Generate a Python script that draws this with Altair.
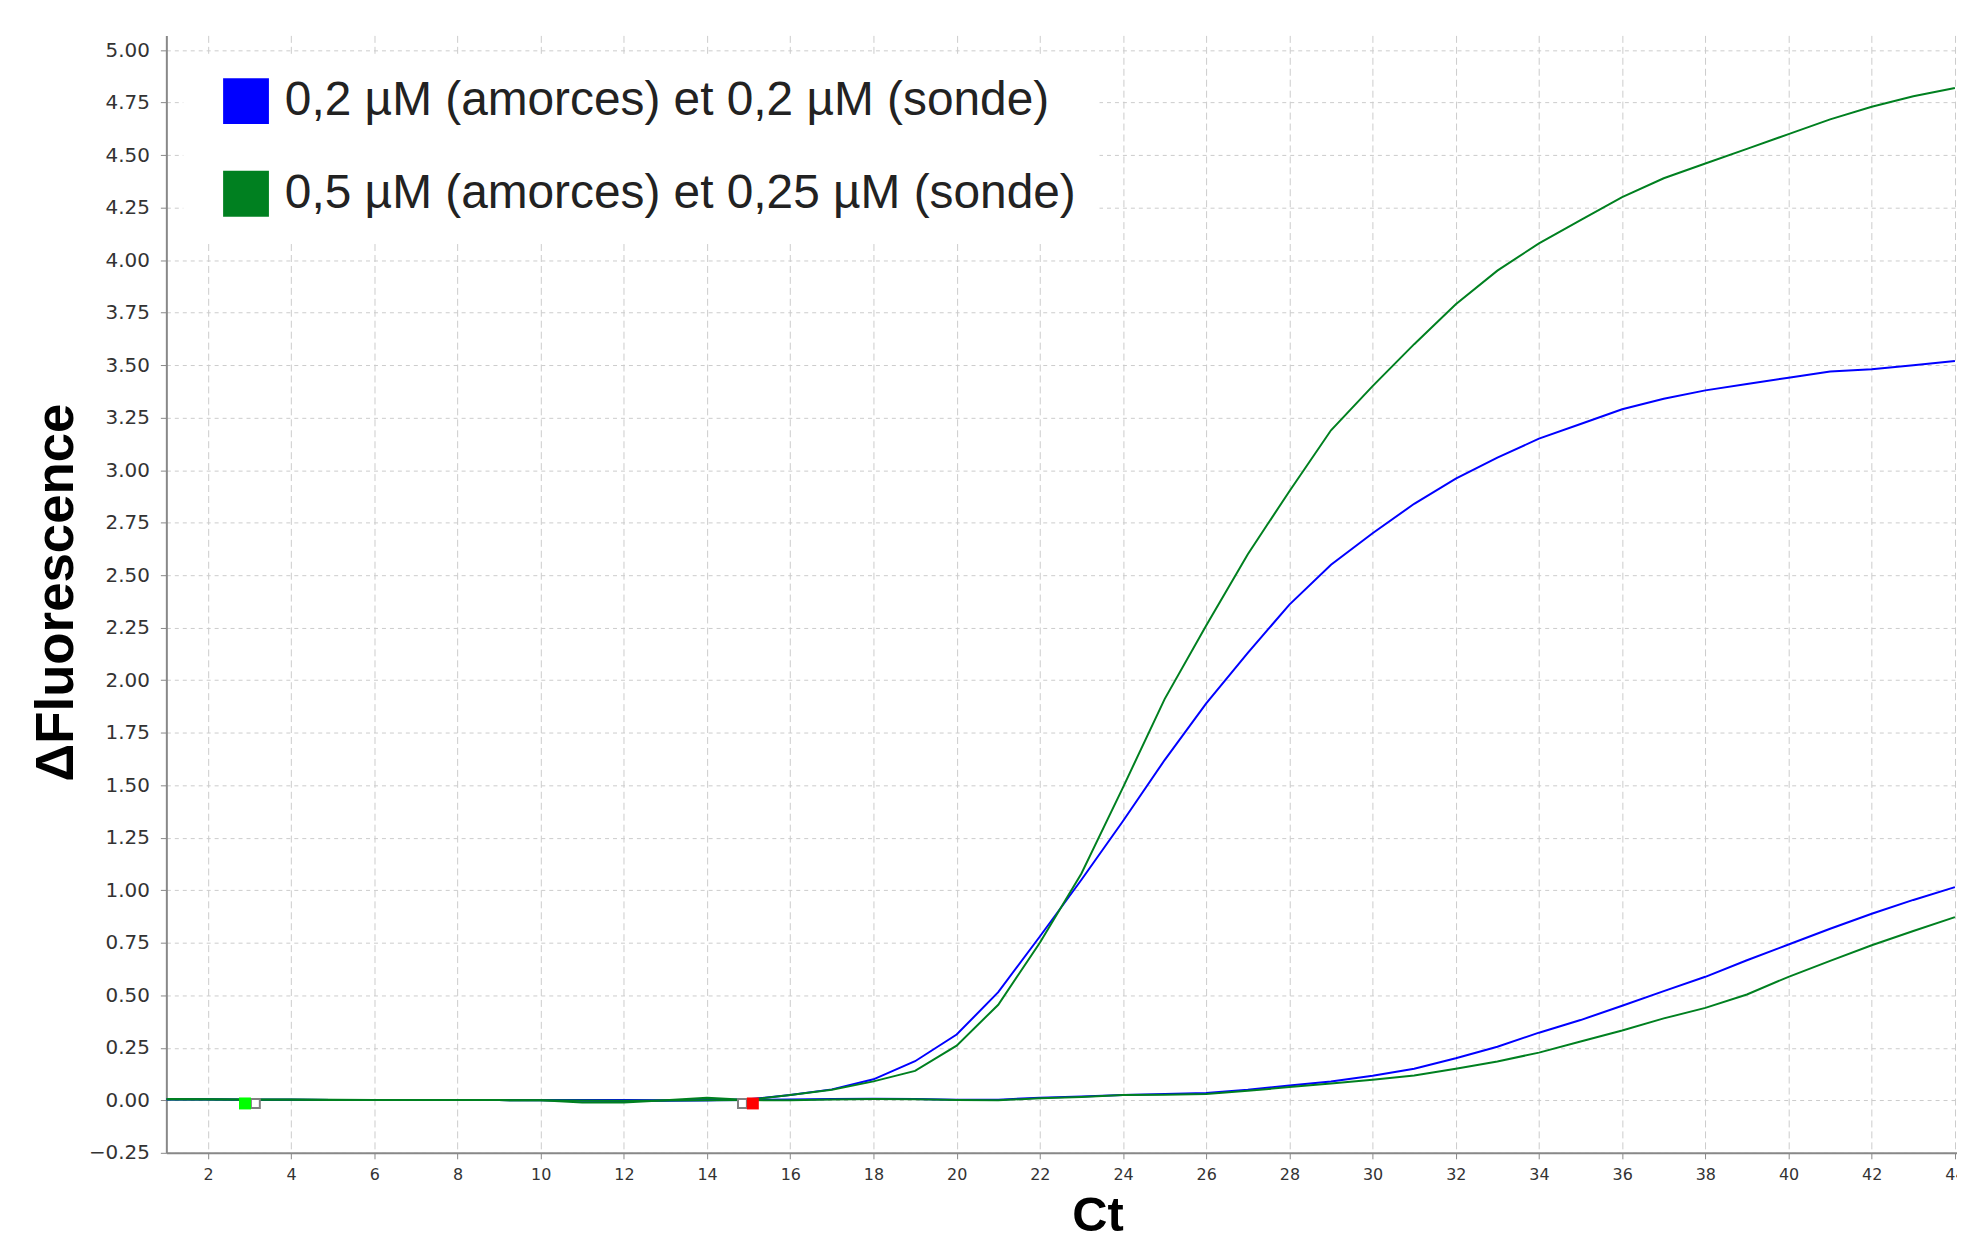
import altair as alt
import pandas as pd

# ---------------- data ----------------
cycles = list(range(1, 45))

series_labels = [
    "0,2 µM (amorces) et 0,2 µM (sonde)",
    "0,5 µM (amorces) et 0,25 µM (sonde)",
]
series_colors = ["#0000ff", "#008020"]

# blue, high curve
blue_high = [0.005, 0.005, 0.003, 0.003, 0.002, 0.002, 0.002, 0.002, 0.002, 0.002,
             0.002, 0.002, 0.000, 0.000, 0.005, 0.025, 0.052, 0.100, 0.186, 0.313,
             0.515, 0.780, 1.050, 1.330, 1.620, 1.890, 2.130, 2.360, 2.550, 2.700,
             2.840, 2.960, 3.060, 3.150, 3.220, 3.290, 3.340, 3.380, 3.410, 3.440,
             3.470, 3.480, 3.500, 3.520]
# green, high curve
green_high = [0.006, 0.005, 0.004, 0.004, 0.003, 0.002, 0.002, 0.002, 0.001, 0.000,
              -0.010, -0.010, 0.000, 0.012, 0.002, 0.025, 0.050, 0.090, 0.140, 0.260,
              0.455, 0.750, 1.080, 1.490, 1.910, 2.260, 2.600, 2.900, 3.190, 3.400,
              3.600, 3.790, 3.950, 4.080, 4.190, 4.300, 4.390, 4.460, 4.530, 4.600,
              4.670, 4.730, 4.780, 4.820]
# blue, low curve
blue_low = [0.004, 0.004, 0.003, 0.003, 0.002, 0.002, 0.002, 0.001, 0.001, 0.000,
            -0.002, -0.003, -0.002, 0.000, 0.002, 0.004, 0.006, 0.008, 0.006, 0.003,
            0.003, 0.012, 0.018, 0.025, 0.030, 0.035, 0.050, 0.070, 0.090, 0.117,
            0.150, 0.200, 0.255, 0.322, 0.382, 0.450, 0.520, 0.588, 0.667, 0.742,
            0.817, 0.888, 0.954, 1.015]
# green, low curve
green_low = [0.004, 0.004, 0.003, 0.003, 0.002, 0.002, 0.002, 0.001, 0.001, 0.000,
             -0.001, -0.002, -0.001, 0.000, 0.001, 0.000, 0.004, 0.006, 0.005, 0.002,
             0.000, 0.010, 0.016, 0.025, 0.027, 0.030, 0.045, 0.063, 0.080, 0.098,
             0.118, 0.150, 0.185, 0.227, 0.280, 0.332, 0.390, 0.440, 0.504, 0.588,
             0.664, 0.738, 0.806, 0.872]

curves = [
    ("blue_high", series_labels[0], blue_high),
    ("blue_low", series_labels[0], blue_low),
    ("green_high", series_labels[1], green_high),
    ("green_low", series_labels[1], green_low),
]

# baseline start / end markers
marker_x = [3.14, 2.89, 14.85, 15.10]
marker_y = [-0.015, -0.015, -0.015, -0.015]
marker_fill = ["#ffffff", "#00ff00", "#ffffff", "#ff0000"]
marker_stroke = ["#808080", "#00ff00", "#808080", "#ff0000"]
marker_size = [80, 144, 80, 144]
marker_sw = [2, 0, 2, 0]

y_ticks = [-0.25 + 0.25 * i for i in range(22)]
x_ticks = list(range(2, 45, 2))

rows = []
for cid, lab, vals in curves:
    for c, v in zip(cycles, vals):
        rows.append({"curve": cid, "series": lab, "cycle": c, "value": v})
df = pd.DataFrame(rows)

mdf = pd.DataFrame({"cycle": marker_x, "value": marker_y, "fill": marker_fill,
                    "stroke": marker_stroke, "size": marker_size, "sw": marker_sw})

# ---------------- encodings ----------------
x_enc = alt.X(
    "cycle:Q",
    scale=alt.Scale(domain=[1, 44.05], nice=False, zero=False),
    axis=alt.Axis(
        values=x_ticks, format="d", title="Ct",
        labelFont="DejaVu Sans", labelFontSize=16, labelColor="#333333",
        labelPadding=8, labelFlush=False, labelOverlap=False,
        tickSize=6, tickColor="#888888", domainColor="#888888", domainWidth=2,
        grid=True, gridColor="#cccccc", gridDash=[7, 4], gridWidth=1,
        titleFont="Liberation Sans", titleFontWeight="bold", titleFontSize=49,
        titleColor="#000000", titleX=935, titleY=78, titleAlign="center",
        titleBaseline="alphabetic",
    ),
)
y_enc = alt.Y(
    "value:Q",
    scale=alt.Scale(domain=[-0.25, 5.07], nice=False, zero=False),
    axis=alt.Axis(
        values=y_ticks, format=".2f", title="ΔFluorescence",
        labelFont="DejaVu Sans", labelFontSize=20, labelColor="#333333",
        labelPadding=11, labelFlush=False, labelOverlap=False,
        tickSize=6, tickColor="#888888", domainColor="#888888", domainWidth=2,
        grid=True, gridColor="#cccccc", gridDash=[4, 4], gridWidth=1,
        titleFont="Liberation Sans", titleFontWeight="bold", titleFontSize=53,
        titleColor="#000000", titleAngle=270, titleX=-94, titleY=559,
        titleAlign="center", titleBaseline="alphabetic",
    ),
)

color_scale = alt.Scale(domain=series_labels, range=series_colors)

# invisible (size 0) squares that carry the filled-square legend
legend_layer = alt.Chart(df).mark_square(size=0, filled=True, opacity=1).encode(
    x=x_enc,
    y=y_enc,
    color=alt.Color(
        "series:N", scale=color_scale,
        legend=alt.Legend(
            title=None, orient="none", legendX=17, legendY=19,
            direction="vertical", symbolType="square", symbolSize=2116,
            symbolStrokeWidth=0, symbolOpacity=1,
            labelFont="Liberation Sans", labelFontSize=48, labelColor="#222222",
            labelLimit=0, padding=23, rowPadding=45, symbolOffset=16,
            labelOffset=15, fillColor="#ffffff",
        ),
    ),
)

lines = alt.Chart(df).mark_line(strokeWidth=2, clip=True).encode(
    x=x_enc,
    y=y_enc,
    color=alt.Color("series:N", scale=color_scale),
    detail="curve:N",
)

markers = alt.Chart(mdf).mark_square(filled=True, opacity=1).encode(
    x=x_enc,
    y=y_enc,
    fill=alt.Fill("fill:N", scale=None),
    stroke=alt.Stroke("stroke:N", scale=None),
    size=alt.Size("size:Q", scale=None),
    strokeWidth=alt.StrokeWidth("sw:Q", scale=None),
)

chart = (
    alt.layer(legend_layer, lines, markers)
    .properties(
        width=1798, height=1122,
        autosize=alt.AutoSizeParams(type="none"),
        padding={"left": 159, "top": 25, "right": 0, "bottom": 78},
        background="#ffffff",
    )
    .configure_view(strokeWidth=0)
)

chart.save("out.html", embed_options={"renderer": "svg", "actions": False})
